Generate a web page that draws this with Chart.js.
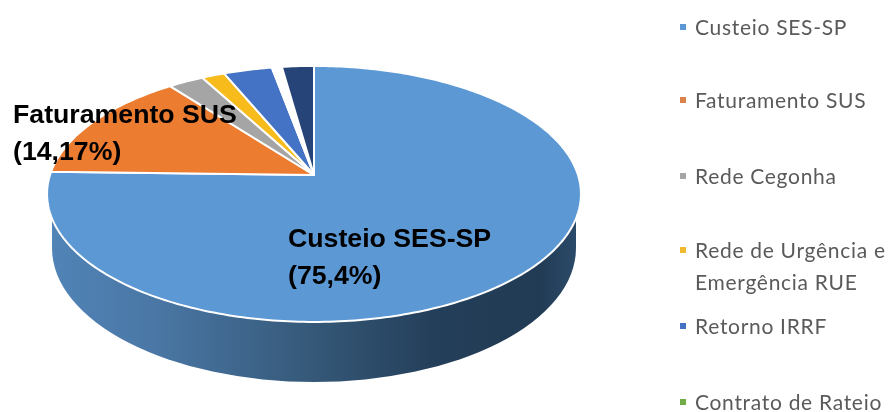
<!DOCTYPE html>
<html>
<head>
<meta charset="utf-8">
<style>
html, body { margin: 0; padding: 0; background: #fff; overflow: hidden; }
#box { width: 893px; height: 412px; position: relative; }
canvas { filter: blur(0.4px); }
</style>
<script src="https://cdn.jsdelivr.net/npm/chart.js@4"></script>
</head>
<body>
<div id="box"><canvas id="pie" width="893" height="412"></canvas></div>
<script>
const categories = ['Custeio SES-SP', 'Faturamento SUS', 'Rede Cegonha', 'Rede de Urgência e Emergência RUE', 'Retorno IRRF', 'Contrato de Rateio', ''];
const shares = [75.4, 14.17, 2.5, 1.6, 3.4, 0.7, 2.23];
const sliceColors = ['#5b98d4', '#ec7c30', '#a5a5a5', '#f7bb1c', '#4472c4', '#ffffff', '#264478'];
const legendLines = [['Custeio SES-SP'], ['Faturamento SUS'], ['Rede Cegonha'], ['Rede de Urgência e', 'Emergência RUE'], ['Retorno IRRF'], ['Contrato de Rateio']];
const legendColors = ['#5b98d4', '#d9824a', '#a5a5a5', '#f0b92d', '#4472c4', '#70ad47'];
const callouts = [
    { lines: ['Faturamento SUS', '(14,17%)'], x: 13, y: 123 },
    { lines: ['Custeio SES-SP', '(75,4%)'], x: 288, y: 247 }
];

// the picture is a tilted pie: unit circle is projected onto the screen with perspective
const view = { cx: 314, cy: 175, a: 264, b: 125.2, k: 0.148 };
function project(angle) {
    const u = Math.cos(angle), v = Math.sin(angle);
    const d = 1 - view.k * v;
    return [view.cx + view.a * u / d, view.cy + view.b * v / d];
}

function drawSide(ctx) {
    const g = ctx.createLinearGradient(47, 0, 581, 0);
    g.addColorStop(0, '#5184b8');
    g.addColorStop(0.2, '#4a77a5');
    g.addColorStop(0.5, '#355878');
    g.addColorStop(0.72, '#243f5a');
    g.addColorStop(0.92, '#223b54');
    g.addColorStop(1, '#2c4c6c');
    ctx.fillStyle = g;
    ctx.beginPath();
    ctx.moveTo(52, 196);
    ctx.lineTo(52, 248);
    ctx.ellipse(314, 248, 262, 134, 0, Math.PI, 0, true);
    ctx.lineTo(576, 196);
    ctx.closePath();
    ctx.fill();
}

const tiltedPie = {
    id: 'tiltedPie',
    beforeDatasetDraw(chart) {
        const ctx = chart.ctx;
        ctx.save();
        drawSide(ctx);
        ctx.lineWidth = 2;
        ctx.lineJoin = 'round';
        ctx.strokeStyle = '#fff';
        chart.getDatasetMeta(0).data.forEach((arc, i) => {
            const steps = Math.max(4, Math.ceil((arc.endAngle - arc.startAngle) * 60));
            ctx.beginPath();
            ctx.moveTo(view.cx, view.cy);
            for (let s = 0; s <= steps; s++) {
                const p = project(arc.startAngle + (arc.endAngle - arc.startAngle) * s / steps);
                ctx.lineTo(p[0], p[1]);
            }
            ctx.closePath();
            ctx.fillStyle = sliceColors[i];
            ctx.fill();
            ctx.stroke();
        });
        ctx.restore();
        return false;
    },
    afterDraw(chart) {
        const ctx = chart.ctx;
        ctx.save();
        ctx.fillStyle = '#000';
        ctx.font = 'bold 26.7px "Liberation Sans"';
        ctx.textBaseline = 'alphabetic';
        callouts.forEach(c => c.lines.forEach((t, i) => ctx.fillText(t, c.x, c.y + i * 37)));

        const rows = [28, 101, 177, 251, 327, 403];
        ctx.font = '21px Lato';
        ctx.letterSpacing = '0.7px';
        ctx.textBaseline = 'middle';
        legendLines.forEach((lines, i) => {
            ctx.fillStyle = legendColors[i];
            ctx.fillRect(680, rows[i] - 4, 6, 6);
            ctx.fillStyle = '#5a5a5a';
            ctx.filter = 'blur(0.6px)';
            lines.forEach((t, j) => ctx.fillText(t, 695, rows[i] + j * 32));
            ctx.filter = 'none';
        });
        ctx.restore();
    }
};

new Chart(document.getElementById('pie').getContext('2d'), {
    type: 'pie',
    data: { labels: categories, datasets: [{ data: shares, backgroundColor: sliceColors, borderWidth: 0 }] },
    options: {
        responsive: false,
        animation: false,
        plugins: { legend: { display: false }, tooltip: { enabled: false } }
    },
    plugins: [tiltedPie]
});
</script>
</body>
</html>
